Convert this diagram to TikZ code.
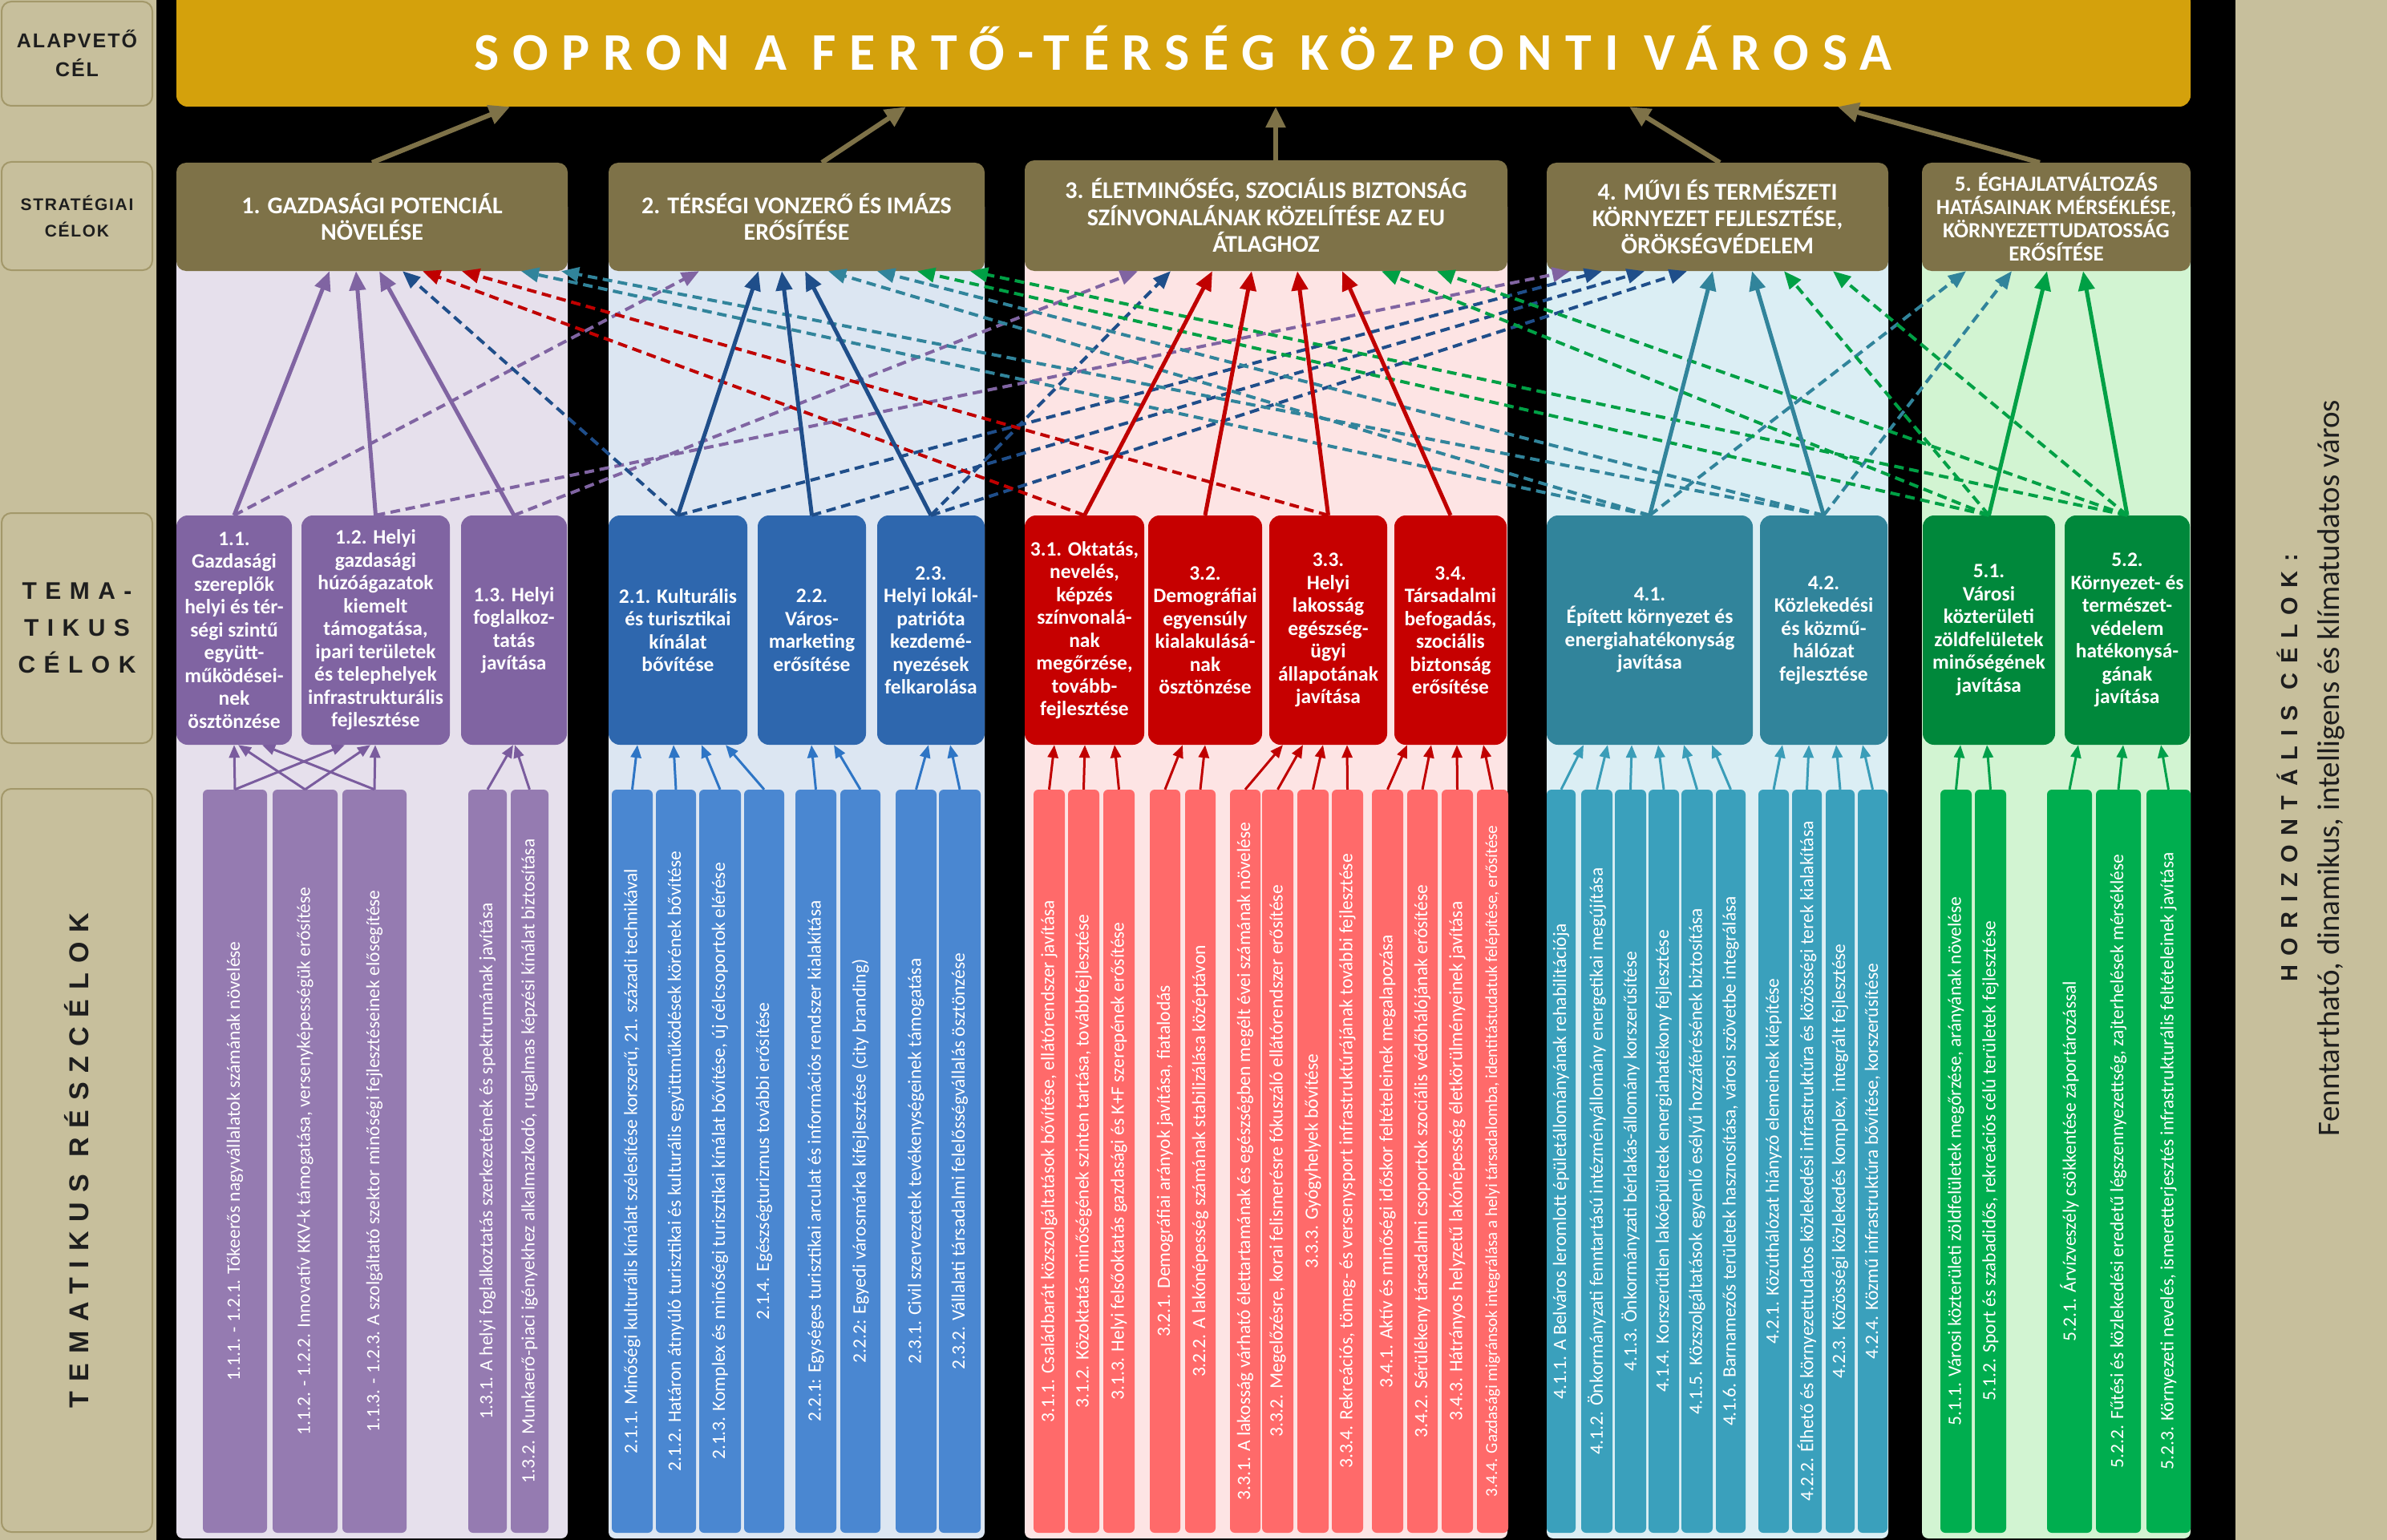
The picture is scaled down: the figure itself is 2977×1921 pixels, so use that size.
\documentclass[tikz,border=0pt]{standalone}
\usepackage{fontspec}
\setmainfont{Carlito}
\newfontfamily\titlefont[LetterSpace=25]{Carlito}
\newfontfamily\lblfont[LetterSpace=8]{Liberation Sans}
\newfontfamily\lblwide[LetterSpace=35]{Liberation Sans}
\newfontfamily\horizfont[LetterSpace=40]{Liberation Sans}
\usetikzlibrary{arrows.meta}
\definecolor{panelc}{HTML}{C7BF9C}
\definecolor{lblborder}{HTML}{A3986A}
\definecolor{lbltext}{HTML}{1E1E1E}
\definecolor{titlec}{HTML}{D4A10C}
\definecolor{hdrc}{HTML}{7E7248}
\definecolor{bgA}{HTML}{E6E0EC}
\definecolor{bgB}{HTML}{DCE6F2}
\definecolor{bgC}{HTML}{FDE4E4}
\definecolor{bgD}{HTML}{DBEEF4}
\definecolor{bgE}{HTML}{D2F4D2}
\definecolor{boxA}{HTML}{8064A2}
\definecolor{boxB}{HTML}{2E67AE}
\definecolor{boxC}{HTML}{C60000}
\definecolor{boxD}{HTML}{31849B}
\definecolor{boxE}{HTML}{00883B}
\definecolor{barA}{HTML}{957BB1}
\definecolor{barB}{HTML}{4A87D1}
\definecolor{barC}{HTML}{FF6A6A}
\definecolor{barD}{HTML}{3AA0BC}
\definecolor{barE}{HTML}{00AE4F}
\definecolor{arrA}{HTML}{8064A2}
\definecolor{arrB}{HTML}{1F4E8A}
\definecolor{arrC}{HTML}{C00000}
\definecolor{arrD}{HTML}{31849B}
\definecolor{arrE}{HTML}{00A045}
\definecolor{subA}{HTML}{7A5C9E}
\definecolor{subB}{HTML}{2E75C5}
\definecolor{subC}{HTML}{C00000}
\definecolor{subD}{HTML}{3A9DB8}
\definecolor{subE}{HTML}{00A04A}
\newcommand\mkbox[8]{%
  \pgfmathsetmacro\mkW{#4-#3}\pgfmathsetmacro\mkH{#6-#5}%
  \pgfmathsetmacro\mkX{(#3+#4)/2}\pgfmathsetmacro\mkY{(#5+#6)/2}%
  \node[#1,#7,minimum width=\mkW pt,minimum height=\mkH pt] (#2) at (\mkX,\mkY) {#8};}
\newcommand\mkbar[5]{%
  \pgfmathsetmacro\mkW{#4-#3}\pgfmathsetmacro\mkX{(#3+#4)/2}%
  \node[barbox,#1,minimum width=927pt,minimum height=\mkW pt] (#2) at (\mkX,1448.5) {#5};}
\tikzset{
  lblbox/.style={draw=lblborder, line width=2pt, fill=panelc, rounded corners=12pt, text=lbltext, align=center, inner sep=0pt},
  titlebox/.style={fill=titlec, rounded corners=14pt, text=white, inner sep=0pt, font=\titlefont\bfseries\fontsize{66}{72}\selectfont},
  hdr/.style={fill=hdrc, rounded corners=12pt, text=white, font=\bfseries\fontsize{30}{33.5}\selectfont, align=center, inner sep=0pt},
  tbox/.style={rounded corners=14pt, text=white, font=\bfseries\fontsize{25.5}{28.5}\selectfont, align=center, inner sep=0pt},
  barbox/.style={rounded corners=6pt, text=white, font=\fontsize{23.5}{25}\selectfont, inner sep=0pt, rotate=90},
  solidarr/.style={line width=5pt, -{Triangle[length=24pt,width=20pt]}},
  dasharr/.style={line width=4pt, dash pattern=on 12pt off 7pt, -{Triangle[length=22pt,width=18pt]}},
  subarr/.style={line width=3pt, -{Triangle[length=16pt,width=13pt]}},
  toparr/.style={line width=6pt, draw=hdrc, -{Triangle[length=26pt,width=24pt]}},
}
\begin{document}
\begin{tikzpicture}[x=1pt,y=-1pt]
\useasboundingbox (0,0) rectangle (2977,1921);
\fill[black] (0,0) rectangle (2977,1921);
% side panels
\fill[panelc, rounded corners=10pt] (-20,-20) rectangle (195,1941);
\fill[panelc, rounded corners=14pt] (2788,-20) rectangle (2997,1941);
% column backgrounds
\fill[bgA, rounded corners=8pt] (220,250) rectangle (708,1919);
\fill[bgB, rounded corners=8pt] (759,250) rectangle (1228,1919);
\fill[bgC, rounded corners=8pt] (1278,250) rectangle (1880,1919);
\fill[bgD, rounded corners=8pt] (1929,250) rectangle (2355,1919);
\fill[bgE, rounded corners=8pt] (2397,250) rectangle (2732,1919);

% left labels
\mkbox{lblbox}{lb1}{2}{190}{2}{132}{font=\lblfont\bfseries\fontsize{25}{36}\selectfont}{ALAPVETŐ\\CÉL}
\mkbox{lblbox}{lb2}{2}{190}{202}{337}{font=\lblfont\bfseries\fontsize{21}{33}\selectfont}{STRATÉGIAI\\CÉLOK}
\mkbox{lblbox}{lb3}{2}{190}{640}{927}{font=\lblwide\bfseries\fontsize{30}{46}\selectfont}{TEMA-\\TIKUS\\CÉLOK}
\node[lblbox, rotate=90, minimum width=927pt, minimum height=188pt, font=\lblwide\bfseries\fontsize{34}{40}\selectfont] (lb4) at (96,1447.5) {TEMATIKUS RÉSZCÉLOK};
% right label
\node[rotate=90, align=center, text=lbltext, inner sep=0pt] (rlab) at (2882,958)
  {{\horizfont\bfseries\fontsize{29}{35}\selectfont HORIZONTÁLIS CÉLOK:}\\[24pt]
   {\fontsize{39}{42}\selectfont Fenntartható, dinamikus, intelligens és klímatudatos város}};

% title
\mkbox{titlebox}{title}{220}{2732}{-12}{133}{}{SOPRON A FERTŐ-TÉRSÉG KÖZPONTI VÁROSA}

% strategic headers
\mkbox{hdr}{h1}{220}{708}{203}{338}{}{1. GAZDASÁGI POTENCIÁL\\NÖVELÉSE}
\mkbox{hdr}{h2}{759}{1228}{203}{338}{}{2. TÉRSÉGI VONZERŐ ÉS IMÁZS\\ERŐSÍTÉSE}
\mkbox{hdr}{h3}{1278}{1880}{200}{338}{}{3. ÉLETMINŐSÉG, SZOCIÁLIS BIZTONSÁG\\SZÍNVONALÁNAK KÖZELÍTÉSE AZ EU\\ÁTLAGHOZ}
\mkbox{hdr}{h4}{1929}{2355}{203}{338}{}{4. MŰVI ÉS TERMÉSZETI\\KÖRNYEZET FEJLESZTÉSE,\\ÖRÖKSÉGVÉDELEM}
\mkbox{hdr}{h5}{2397}{2732}{203}{338}{font=\bfseries\fontsize{27}{29}\selectfont}{5. ÉGHAJLATVÁLTOZÁS\\HATÁSAINAK MÉRSÉKLÉSE,\\KÖRNYEZETTUDATOSSÁG\\ERŐSÍTÉSE}

% top arrows
\draw[toparr] (h1.north) -- (title.south -| 636,0);
\draw[toparr] (h2.north -| 1025,0) -- (title.south -| 1130,0);
\draw[toparr] (h3.north -| 1591,0) -- (title.south -| 1591,0);
\draw[toparr] (h4.north -| 2145,0) -- (title.south -| 2032,0);
\draw[toparr] (h5.north -| 2544,0) -- (title.south -| 2292,0);

% thematic goals
\mkbox{tbox}{t11}{220}{364}{643}{929}{fill=boxA}{1.1.\\Gazdasági\\szereplők\\helyi és tér-\\ségi szintű\\együtt-\\működései-\\nek\\ösztönzése}
\mkbox{tbox}{t12}{376}{561}{643}{929}{fill=boxA}{1.2. Helyi\\gazdasági\\húzóágazatok\\kiemelt\\támogatása,\\ipari területek\\és telephelyek\\infrastrukturális\\fejlesztése}
\mkbox{tbox}{t13}{575}{707}{643}{929}{fill=boxA}{1.3. Helyi\\foglalkoz-\\tatás\\javítása}
\mkbox{tbox}{t21}{759}{932}{643}{929}{fill=boxB}{2.1. Kulturális\\és turisztikai\\kínálat\\bővítése}
\mkbox{tbox}{t22}{945}{1080}{643}{929}{fill=boxB}{2.2.\\Város-\\marketing\\erősítése}
\mkbox{tbox}{t23}{1094}{1228}{643}{929}{fill=boxB}{2.3.\\Helyi lokál-\\patrióta\\kezdemé-\\nyezések\\felkarolása}
\mkbox{tbox}{t31}{1278}{1427}{643}{929}{fill=boxC}{3.1. Oktatás,\\nevelés,\\képzés\\színvonalá-\\nak\\megőrzése,\\tovább-\\fejlesztése}
\mkbox{tbox}{t32}{1432}{1574}{643}{929}{fill=boxC}{3.2.\\Demográfiai\\egyensúly\\kialakulásá-\\nak\\ösztönzése}
\mkbox{tbox}{t33}{1583}{1730}{643}{929}{fill=boxC}{3.3.\\Helyi\\lakosság\\egészség-\\ügyi\\állapotának\\javítása}
\mkbox{tbox}{t34}{1739}{1879}{643}{929}{fill=boxC}{3.4.\\Társadalmi\\befogadás,\\szociális\\biztonság\\erősítése}
\mkbox{tbox}{t41}{1929}{2186}{643}{929}{fill=boxD}{4.1.\\Épített környezet és\\energiahatékonyság\\javítása}
\mkbox{tbox}{t42}{2195}{2354}{643}{929}{fill=boxD}{4.2.\\Közlekedési\\és közmű-\\hálózat\\fejlesztése}
\mkbox{tbox}{t51}{2398}{2563}{643}{929}{fill=boxE}{5.1.\\Városi\\közterületi\\zöldfelületek\\minőségének\\javítása}
\mkbox{tbox}{t52}{2575}{2731}{643}{929}{fill=boxE}{5.2.\\Környezet- és\\természet-\\védelem\\hatékonysá-\\gának\\javítása}

% sub-goal bars
\mkbar{fill=barA}{s1a}{253}{333}{1.1.1. - 1.2.1. Tőkeerős nagyvállalatok számának növelése}
\mkbar{fill=barA}{s1b}{340}{421}{1.1.2. - 1.2.2. Innovatív KKV-k támogatása, versenyképességük erősítése}
\mkbar{fill=barA}{s1c}{427}{507}{1.1.3. - 1.2.3. A szolgáltató szektor minőségi fejlesztéseinek elősegítése}
\mkbar{fill=barA}{s1d}{584}{632}{1.3.1. A helyi foglalkoztatás szerkezetének és spektrumának javítása}
\mkbar{fill=barA}{s1e}{637}{684}{1.3.2. Munkaerő-piaci igényekhez alkalmazkodó, rugalmas képzési kínálat biztosítása}
\mkbar{fill=barB}{s2a}{763}{814}{2.1.1. Minőségi kulturális kínálat szélesítése korszerű, 21. századi technikával}
\mkbar{fill=barB}{s2b}{818}{868}{2.1.2. Határon átnyúló turisztikai és kulturális együttműködések körének bővítése}
\mkbar{fill=barB}{s2c}{872}{924}{2.1.3. Komplex és minőségi turisztikai kínálat bővítése, új célcsoportok elérése}
\mkbar{fill=barB}{s2d}{928}{978}{2.1.4. Egészségturizmus további erősítése}
\mkbar{fill=barB}{s2e}{992}{1043}{2.2.1: Egységes turisztikai arculat és információs rendszer kialakítása}
\mkbar{fill=barB}{s2f}{1048}{1098}{2.2.2: Egyedi városmárka kifejlesztése (city branding)}
\mkbar{fill=barB}{s2g}{1117}{1168}{2.3.1. Civil szervezetek tevékenységeinek támogatása}
\mkbar{fill=barB}{s2h}{1171}{1223}{2.3.2. Vállalati társadalmi felelősségvállalás ösztönzése}
\mkbar{fill=barC}{s3a}{1289}{1328}{3.1.1. Családbarát közszolgáltatások bővítése, ellátórendszer javítása}
\mkbar{fill=barC}{s3b}{1332}{1371}{3.1.2. Közoktatás minőségének szinten tartása, továbbfejlesztése}
\mkbar{fill=barC}{s3c}{1376}{1415}{3.1.3. Helyi felsőoktatás gazdasági és K+F szerepének erősítése}
\mkbar{fill=barC}{s3d}{1434}{1472}{3.2.1. Demográfiai arányok javítása, fiatalodás}
\mkbar{fill=barC}{s3e}{1478}{1516}{3.2.2. A lakónépesség számának stabilizálása középtávon}
\mkbar{fill=barC}{s3f}{1534}{1572}{3.3.1. A lakosság várható élettartamának és egészségben megélt évei számának növelése}
\mkbar{fill=barC}{s3g}{1574}{1613}{3.3.2. Megelőzésre, korai felismerésre fókuszáló ellátórendszer erősítése}
\mkbar{fill=barC}{s3h}{1618}{1657}{3.3.3. Gyógyhelyek bővítése}
\mkbar{fill=barC}{s3i}{1661}{1700}{3.3.4. Rekreációs, tömeg- és versenysport infrastruktúrájának további fejlesztése}
\mkbar{fill=barC}{s3j}{1711}{1750}{3.4.1. Aktív és minőségi időskor feltételeinek megalapozása}
\mkbar{fill=barC}{s3k}{1755}{1793}{3.4.2. Sérülékeny társadalmi csoportok szociális védőhálójának erősítése}
\mkbar{fill=barC}{s3l}{1798}{1837}{3.4.3. Hátrányos helyzetű lakónépesség életkörülményeinek javítása}
\mkbar{fill=barC, font=\fontsize{21}{23}\selectfont}{s3m}{1842}{1881}{3.4.4. Gazdasági migránsok integrálása a helyi társadalomba, identitástudatuk felépítése, erősítése}
\mkbar{fill=barD}{s4a}{1929}{1965}{4.1.1. A Belváros leromlott épületállományának rehabilitációja}
\mkbar{fill=barD}{s4b}{1972}{2011}{4.1.2. Önkormányzati fenntartású intézményállomány energetikai megújítása}
\mkbar{fill=barD}{s4c}{2014}{2053}{4.1.3. Önkormányzati bérlakás-állomány korszerűsítése}
\mkbar{fill=barD}{s4d}{2056}{2094}{4.1.4. Korszerűtlen lakóépületek energiahatékony fejlesztése}
\mkbar{fill=barD}{s4e}{2097}{2136}{4.1.5. Közszolgáltatások egyenlő esélyű hozzáférésének biztosítása}
\mkbar{fill=barD}{s4f}{2140}{2177}{4.1.6. Barnamezős területek hasznosítása, városi szövetbe integrálása}
\mkbar{fill=barD}{s4g}{2193}{2231}{4.2.1. Közúthálózat hiányzó elemeinek kiépítése}
\mkbar{fill=barD}{s4h}{2235}{2272}{4.2.2. Élhető és környezettudatos közlekedési infrastruktúra és közösségi terek kialakítása}
\mkbar{fill=barD}{s4i}{2277}{2313}{4.2.3. Közösségi közlekedés komplex, integrált fejlesztése}
\mkbar{fill=barD}{s4j}{2317}{2354}{4.2.4. Közmű infrastruktúra bővítése, korszerűsítése}
\mkbar{fill=barE}{s5a}{2420}{2459}{5.1.1. Városi közterületi zöldfelületek megőrzése, arányának növelése}
\mkbar{fill=barE}{s5b}{2463}{2502}{5.1.2. Sport és szabadidős, rekreációs célú területek fejlesztése}
\mkbar{fill=barE}{s5c}{2553}{2609}{5.2.1. Árvízveszély csökkentése záportározással}
\mkbar{fill=barE}{s5d}{2614}{2670}{5.2.2. Fűtési és közlekedési eredetű légszennyezettség, zajterhelések mérséklése}
\mkbar{fill=barE}{s5e}{2677}{2732}{5.2.3. Környezeti nevelés, ismeretterjesztés infrastrukturális feltételeinek javítása}

% sub-goal arrows
\foreach \src/\dst/\xx in {s1a/t11/292, s1b/t11/297, s1c/t11/327, s1a/t12/430, s1b/t12/462, s1c/t12/468, s1d/t13/640, s1e/t13/642}
  \draw[subarr, draw=subA] (\src.east) -- (\dst.south -| \xx,0);
\foreach \src/\dst/\xx in {s2a/t21/795, s2b/t21/840, s2c/t21/875, s2d/t21/905, s2e/t22/1012, s2f/t22/1040, s2g/t23/1158, s2h/t23/1185}
  \draw[subarr, draw=subB] (\src.east) -- (\dst.south -| \xx,0);
\foreach \src/\dst/\xx in {s3a/t31/1315, s3b/t31/1353, s3c/t31/1390, s3d/t32/1475, s3e/t32/1503, s3f/t33/1600, s3g/t33/1625, s3h/t33/1650, s3i/t33/1680, s3j/t34/1755, s3k/t34/1785, s3l/t34/1817, s3m/t34/1850}
  \draw[subarr, draw=subC] (\src.east) -- (\dst.south -| \xx,0);
\foreach \src/\dst/\xx in {s4a/t41/1975, s4b/t41/2005, s4c/t41/2035, s4d/t41/2068, s4e/t41/2100, s4f/t41/2135, s4g/t42/2223, s4h/t42/2256, s4i/t42/2290, s4j/t42/2323}
  \draw[subarr, draw=subD] (\src.east) -- (\dst.south -| \xx,0);
\foreach \src/\dst/\xx in {s5a/t51/2445, s5b/t51/2478, s5c/t52/2592, s5d/t52/2648, s5e/t52/2695}
  \draw[subarr, draw=subE] (\src.east) -- (\dst.south -| \xx,0);

% dashed cross links
\foreach \src/\dst/\xx in {t11/h2/872, t12/h4/1958, t13/h3/1419}
  \draw[dasharr, draw=arrA] (\src.north) -- (\dst.south -| \xx,0);
\foreach \src/\dst/\xx in {t21/h1/502, t21/h4/1998, t22/h4/2051, t23/h3/1460, t23/h4/2104}
  \draw[dasharr, draw=arrB] (\src.north) -- (\dst.south -| \xx,0);
\foreach \src/\dst/\xx in {t31/h1/527, t33/h1/576}
  \draw[dasharr, draw=arrC] (\src.north) -- (\dst.south -| \xx,0);
\foreach \src/\dst/\xx in {t41/h1/650, t42/h1/700, t41/h2/1033, t42/h2/1094, t41/h5/2452, t42/h5/2509}
  \draw[dasharr, draw=arrD] (\src.north) -- (\dst.south -| \xx,0);
\foreach \src/\dst/\xx in {t51/h2/1144, t52/h2/1210, t51/h3/1723, t52/h3/1792, t51/h4/2225, t52/h4/2286}
  \draw[dasharr, draw=arrE] (\src.north) -- (\dst.south -| \xx,0);

% solid links
\foreach \src/\dst/\xx in {t11/h1/411, t12/h1/444, t13/h1/473}
  \draw[solidarr, draw=arrA] (\src.north) -- (\dst.south -| \xx,0);
\foreach \src/\dst/\xx in {t21/h2/946, t22/h2/975, t23/h2/1004}
  \draw[solidarr, draw=arrB] (\src.north) -- (\dst.south -| \xx,0);
\foreach \src/\dst/\xx in {t31/h3/1512, t32/h3/1561, t33/h3/1618, t34/h3/1674}
  \draw[solidarr, draw=arrC] (\src.north) -- (\dst.south -| \xx,0);
\foreach \src/\dst/\xx in {t41/h4/2136, t42/h4/2185}
  \draw[solidarr, draw=arrD] (\src.north) -- (\dst.south -| \xx,0);
\foreach \src/\dst/\xx in {t51/h5/2553, t52/h5/2598}
  \draw[solidarr, draw=arrE] (\src.north) -- (\dst.south -| \xx,0);
\end{tikzpicture}
\end{document}
